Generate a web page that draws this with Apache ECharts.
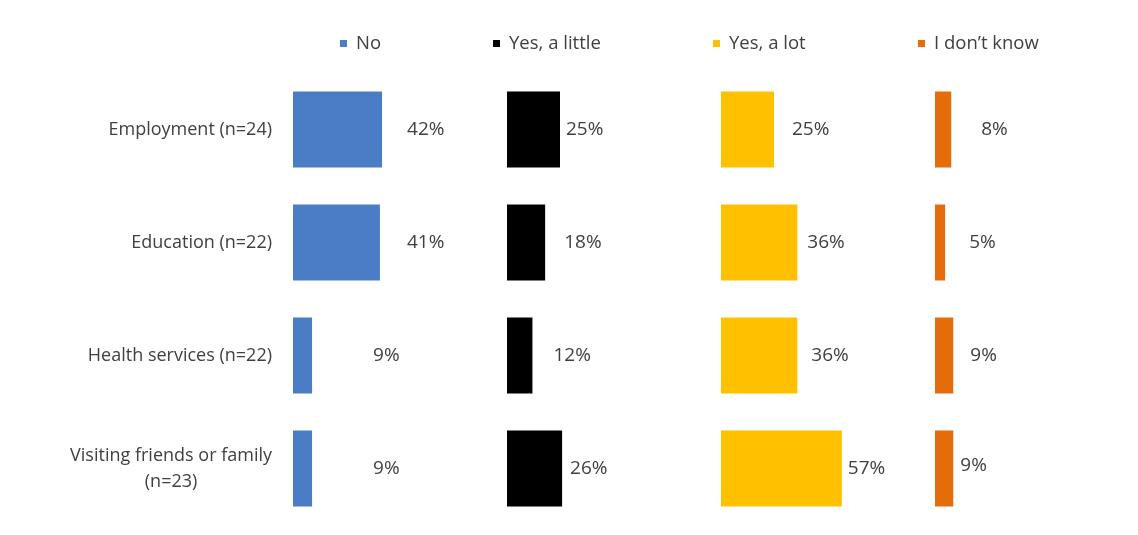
<!DOCTYPE html>
<html>
<head>
<meta charset="utf-8">
<script src="https://cdn.jsdelivr.net/npm/echarts@6/dist/echarts.min.js"></script>
<style>
  html, body { margin: 0; padding: 0; background: #ffffff; }
  #chart { width: 1138px; height: 535px; }
</style>
</head>
<body>
<div id="chart"></div>
<script>
// Categories (top to bottom) and the share of answers in each group, in percent
const categories = [
  'Employment (n=24)',
  'Education (n=22)',
  'Health services (n=22)',
  'Visiting friends or family\n(n=23)'
];
const seriesNames = ['No', 'Yes, a little', 'Yes, a lot', 'I don\u2019t know'];
const noValues = [42, 41, 9, 9];
const littleValues = [25, 18, 12, 26];
const lotValues = [25, 36, 36, 57];
const dontKnowValues = [8, 5, 9, 9];

// Styling
const colors = ['#4A7DC5', '#000000', '#FFC000', '#E46C0A'];
const textColor = '#404040';
const fontFamily = "'Open Sans', 'Noto Sans', sans-serif";
const panelLeft = [293, 507, 721, 935];
const panelWidth = 212;
const legendLeft = [340, 493, 713, 918];
// label nudges [dx, dy] beside each bar end
const labelNudge = [
  [[25, 0], [27, 0], [61, 0], [61, 0]],
  [[6, 0], [19, 0], [21, 0], [8, 0]],
  [[18, 0], [10, 0], [14, 0], [6, 0]],
  [[30, 0], [24, 0], [17, 0], [7, -3]]
];

const allValues = [noValues, littleValues, lotValues, dontKnowValues];

const grids = panelLeft.map(left => ({
  left: left, width: panelWidth, top: 73, height: 452, containLabel: false
}));

const xAxes = panelLeft.map((_, i) => ({
  type: 'value', gridIndex: i, min: 0, max: 100, show: false
}));

const yAxes = panelLeft.map((_, i) => ({
  type: 'category', gridIndex: i, data: categories, inverse: true,
  axisLine: { show: false }, axisTick: { show: false }, splitLine: { show: false },
  axisLabel: i === 0 ? {
    show: true,
    margin: 21,
    formatter: v => v.split('\n').map(s => '{c|' + s + '}').join('\n'),
    rich: {
      c: { align: 'center', fontSize: 18, lineHeight: 26, color: textColor, fontFamily: fontFamily }
    }
  } : { show: false }
}));

const series = allValues.map((vals, i) => ({
  name: seriesNames[i],
  type: 'bar',
  xAxisIndex: i,
  yAxisIndex: i,
  barWidth: 76,
  itemStyle: { color: colors[i] },
  data: vals.map((v, j) => ({
    value: v,
    label: { offset: labelNudge[i][j] }
  })),
  label: {
    show: true,
    position: 'right',
    distance: 0,
    formatter: p => p.value + '%',
    fontSize: 19,
    color: textColor,
    fontFamily: fontFamily
  }
}));

const legends = seriesNames.map((name, i) => ({
  data: [name],
  left: legendLeft[i],
  top: 34,
  padding: 0,
  icon: 'rect',
  itemWidth: 7,
  itemHeight: 7,
  selectedMode: false,
  textStyle: { fontSize: 18.5, color: textColor, fontFamily: fontFamily, padding: [0, 0, 0, 4] }
}));

const chart = echarts.init(document.getElementById('chart'), null, { renderer: 'canvas' });
chart.setOption({
  backgroundColor: '#ffffff',
  animation: false,
  legend: legends,
  grid: grids,
  xAxis: xAxes,
  yAxis: yAxes,
  series: series
});
</script>
</body>
</html>
